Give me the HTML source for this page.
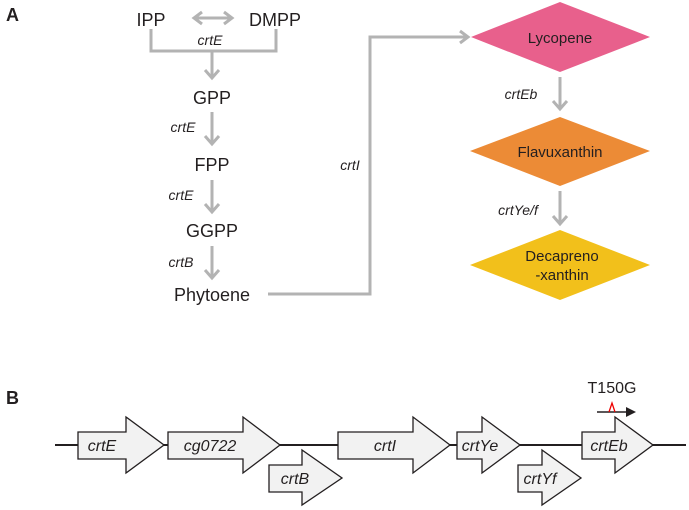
<!DOCTYPE html>
<html><head><meta charset="utf-8"><style>
body{margin:0;background:#fff}
svg{display:block;font-family:"Liberation Sans",Arial,sans-serif}
.n{font-size:18px;fill:#231f20;text-anchor:middle}
.i{font-size:14px;font-style:italic;fill:#231f20;text-anchor:middle}
.g{font-size:16px;font-style:italic;fill:#231f20;text-anchor:middle}
.c{stroke:#b3b3b3;stroke-width:3;fill:none}
.a{fill:#f2f2f2;stroke:#231f20;stroke-width:1.3}
</style></head><body>
<svg width="689" height="510" viewBox="0 0 689 510">
<text x="6" y="21" font-size="18" font-weight="bold" fill="#231f20">A</text>
<text x="6" y="404" font-size="18" font-weight="bold" fill="#231f20">B</text>
<text class="n" x="151" y="26">IPP</text>
<text class="n" x="275" y="26">DMPP</text>
<path class="c" d="M196 18 H230 M202 12 L194 18 L202 24 M224 12 L232 18 L224 24"/>
<path class="c" d="M151 29 V51 H276 V29 M212 51 V78 M205 70 L212 78 L219 70"/>
<text class="i" x="210" y="45">crtE</text>
<text class="n" x="212" y="104">GPP</text>
<path class="c" d="M212 112 V144 M205 136 L212 144 L219 136"/>
<text class="i" x="183" y="132">crtE</text>
<text class="n" x="212" y="171">FPP</text>
<path class="c" d="M212 180 V212 M205 204 L212 212 L219 204"/>
<text class="i" x="181" y="200">crtE</text>
<text class="n" x="212" y="237">GGPP</text>
<path class="c" d="M212 246 V278 M205 270 L212 278 L219 270"/>
<text class="i" x="181" y="267">crtB</text>
<text class="n" x="212" y="301">Phytoene</text>
<path class="c" d="M268 294 H370 V37 H468 M460 31 L468 37 L460 43"/>
<text class="i" x="350" y="170">crtI</text>
<polygon points="471,37 560,2 650,37 560,72" fill="#e8608c"/>
<text class="n" x="560" y="43" style="font-size:15px">Lycopene</text>
<path class="c" d="M560 77 V109 M553 101 L560 109 L567 101"/>
<text class="i" x="521" y="99">crtEb</text>
<polygon points="470,151 560,117 650,151 560,186" fill="#ec8b36"/>
<text class="n" x="560" y="157" style="font-size:15px">Flavuxanthin</text>
<path class="c" d="M560 191 V224 M553 216 L560 224 L567 216"/>
<text class="i" x="518" y="215">crtYe/f</text>
<polygon points="470,265 560,230 650,265 560,300" fill="#f2c01b"/>
<text class="n" x="562" y="261" style="font-size:15px">Decapreno</text>
<text class="n" x="562" y="280" style="font-size:15px">-xanthin</text>
<line x1="55" y1="445" x2="686" y2="445" stroke="#231f20" stroke-width="2"/>
<polygon class="a" points="78,432 126,432 126,417 164,445 126,473 126,459 78,459"/>
<text class="g" x="102" y="451">crtE</text>
<polygon class="a" points="168,432 243,432 243,417 280,445 243,473 243,459 168,459"/>
<text class="g" x="210" y="451">cg0722</text>
<polygon class="a" points="269,465 302,465 302,450 342,478 302,505 302,492 269,492"/>
<text class="g" x="295" y="484">crtB</text>
<polygon class="a" points="338,432 413,432 413,417 450,445 413,473 413,459 338,459"/>
<text class="g" x="385" y="451">crtI</text>
<polygon class="a" points="457,432 482,432 482,417 520,445 482,473 482,459 457,459"/>
<text class="g" x="480" y="451">crtYe</text>
<polygon class="a" points="518,465 542,465 542,450 581,478 542,505 542,492 518,492"/>
<text class="g" x="540" y="484">crtYf</text>
<polygon class="a" points="582,432 615,432 615,417 653,445 615,473 615,459 582,459"/>
<text class="g" x="609" y="451">crtEb</text>
<text x="612" y="393" font-size="16" fill="#231f20" text-anchor="middle">T150G</text>
<path d="M597 412 H628" stroke="#231f20" stroke-width="1.5"/>
<polygon points="626,407 636,412 626,417" fill="#231f20"/>
<path d="M609 412 L612 403 L615 412" stroke="#e00" stroke-width="1.3" fill="none"/>
</svg>
</body></html>
